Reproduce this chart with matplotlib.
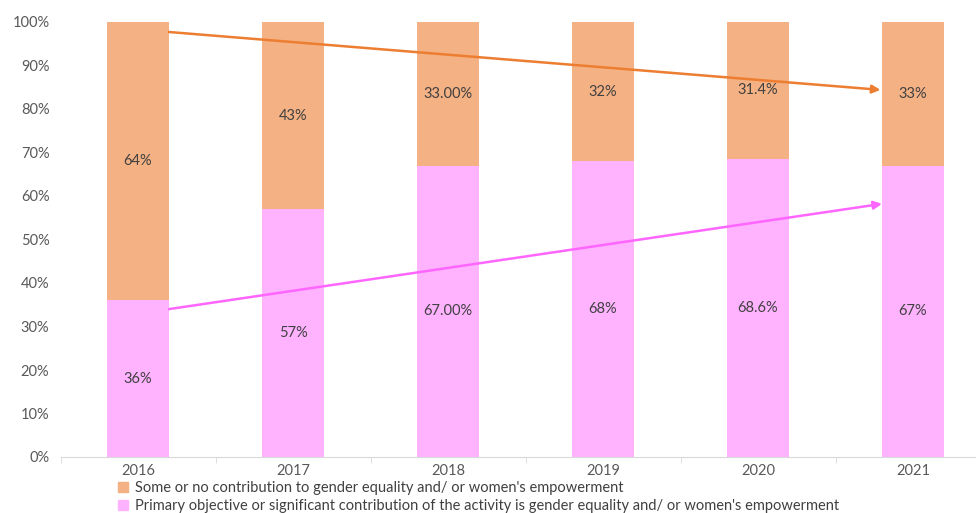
import matplotlib
matplotlib.use("Agg")
import matplotlib.pyplot as plt
from matplotlib.patches import Patch

plt.rcParams['font.family'] = ['Lato', 'DejaVu Sans']

years = ["2016", "2017", "2018", "2019", "2020", "2021"]
primary = [36, 57, 67, 68, 68.6, 67]
some_none = [64, 43, 33, 32, 31.4, 33]
primary_labels = ["36%", "57%", "67.00%", "68%", "68.6%", "67%"]
some_labels = ["64%", "43%", "33.00%", "32%", "31.4%", "33%"]
legend_some = "Some or no contribution to gender equality and/ or women's empowerment"
legend_primary = "Primary objective or significant contribution of the activity is gender equality and/ or women's empowerment"
yticks = [0, 10, 20, 30, 40, 50, 60, 70, 80, 90, 100]

c_orange = "#F4B183"
c_pink = "#FFB3FF"
c_arrow_o = "#ED7D31"
c_arrow_p = "#FF66FF"
txt = "#404040"
fs = 10.5

fig = plt.figure(figsize=(9.76, 5.13), dpi=100)
ax = fig.add_axes([60.5/976, 1-457/513, 930/976, (457-22)/513])

x = list(range(len(years)))
ax.bar(x, primary, width=0.4, color=c_pink, zorder=2)
ax.bar(x, some_none, width=0.4, bottom=primary, color=c_orange, zorder=2)

for i in x:
    ax.text(i, primary[i]/2, primary_labels[i], ha='center', va='center', fontsize=fs, color=txt, zorder=3)
    ax.text(i, primary[i] + some_none[i]/2, some_labels[i], ha='center', va='center', fontsize=fs, color=txt, zorder=3)

# trend arrows
ax.annotate("", xy=(4.79, 84.4), xytext=(0.2, 97.7),
            arrowprops=dict(arrowstyle="-|>", color=c_arrow_o, lw=1.8, mutation_scale=12, shrinkA=0, shrinkB=0), zorder=4)
ax.annotate("", xy=(4.80, 58.2), xytext=(0.2, 34.0),
            arrowprops=dict(arrowstyle="-|>", color=c_arrow_p, lw=1.8, mutation_scale=12, shrinkA=0, shrinkB=0), zorder=4)

ax.set_xlim(-0.5, 5.5)
ax.set_ylim(0, 100)
ax.set_yticks(yticks)
ax.set_yticklabels([f"{v}%" for v in yticks], fontsize=fs, color="#595959")
ax.set_xticks(x)
ax.set_xticklabels(years, fontsize=fs, color="#595959")
ax.set_xticks([i + 0.5 for i in range(-1, len(years))], minor=True)
ax.tick_params(axis='x', which='major', length=0, pad=5)
ax.tick_params(axis='x', which='minor', length=4, color="#D9D9D9")
ax.tick_params(axis='y', length=0, pad=8)
for s in ['top', 'right', 'left']:
    ax.spines[s].set_visible(False)
ax.spines['bottom'].set_color("#D9D9D9")

handles = [Patch(color=c_orange, label=legend_some), Patch(color=c_pink, label=legend_primary)]
fig.legend(handles=handles, loc='upper left', bbox_to_anchor=(118/976, 1-481/513), frameon=False,
           fontsize=fs, labelcolor=txt, handlelength=0.7, handleheight=0.7, handletextpad=0.45,
           labelspacing=0.3, borderpad=0, borderaxespad=0)

fig.savefig("out.png", dpi=100)
